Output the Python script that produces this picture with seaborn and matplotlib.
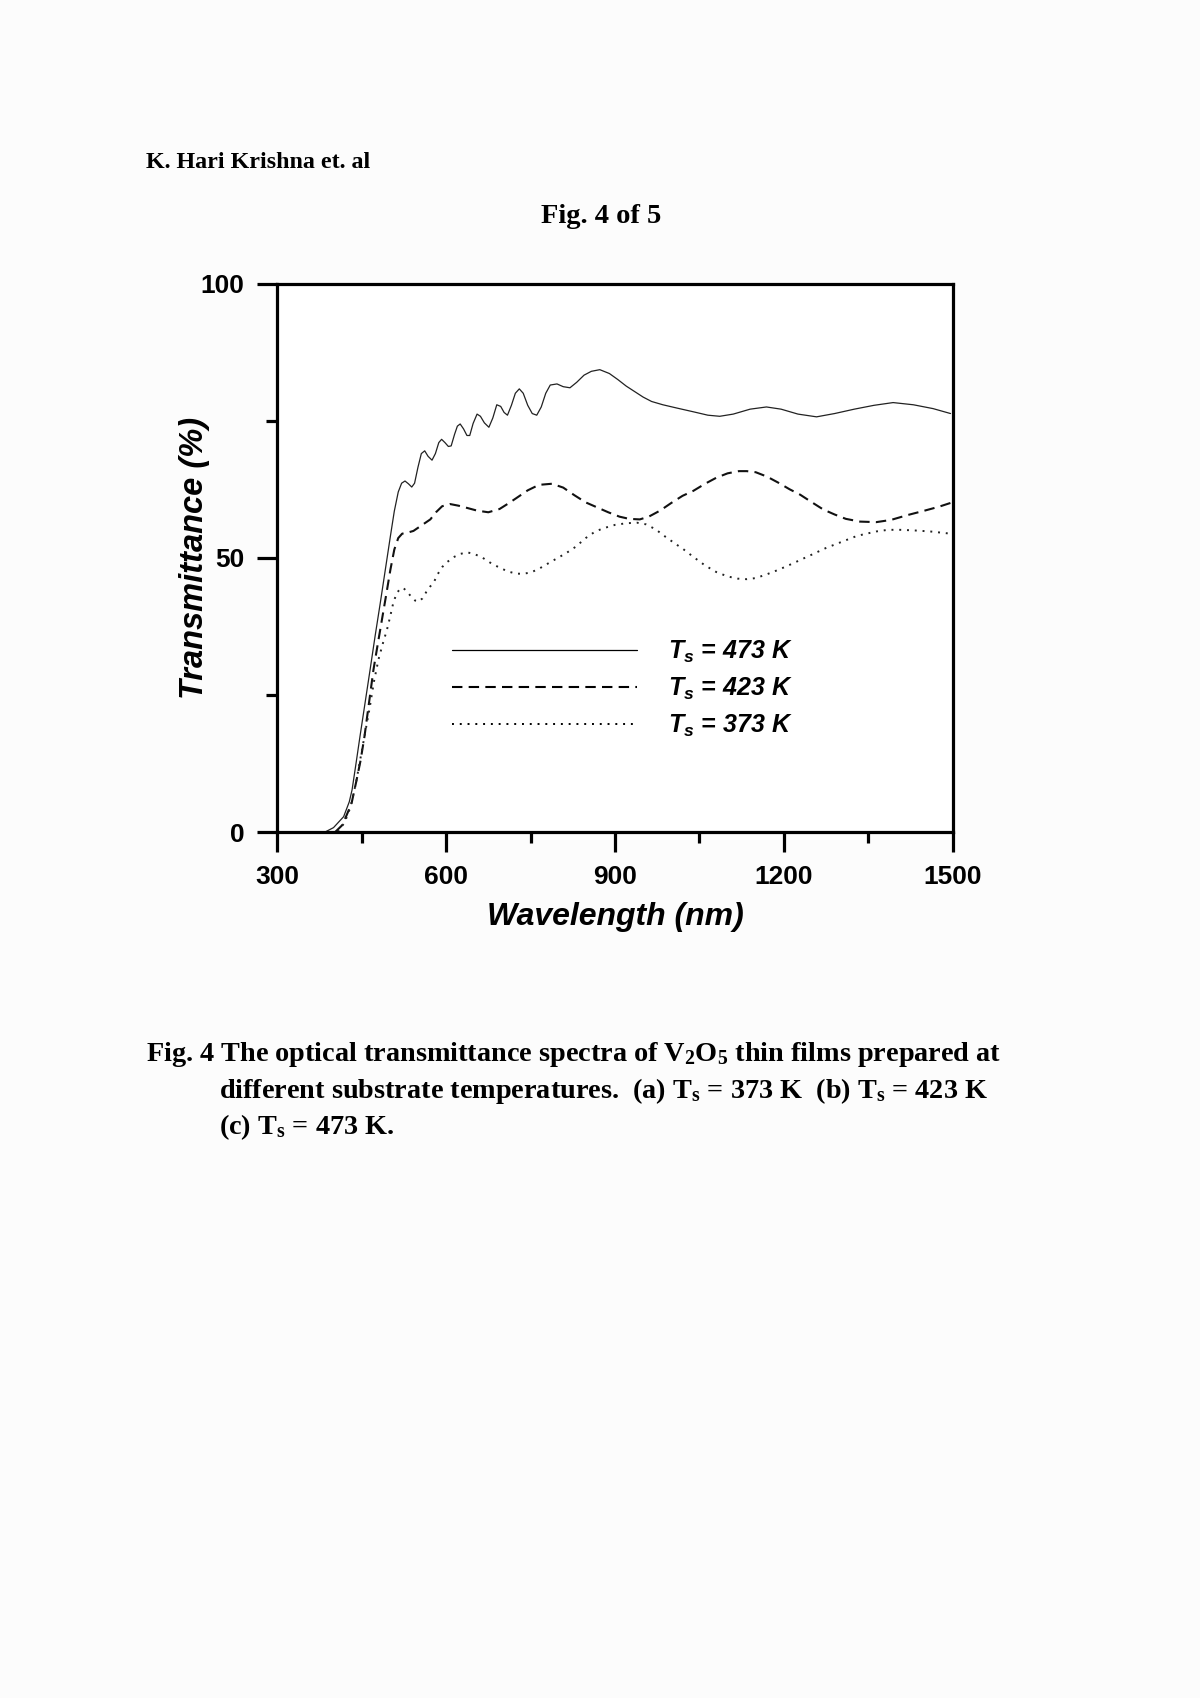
import numpy as np
import pandas as pd
import seaborn as sns
import matplotlib.pyplot as plt
from matplotlib.ticker import MultipleLocator

# Ts = 473 K (solid)
wl_473 = [385, 400, 418, 428, 433, 440, 447, 456, 465, 474, 483, 492, 501, 508, 515,
          521, 527, 533, 539, 544, 550, 556, 562, 568, 575, 581, 587, 592, 598, 604,
          609, 615, 620, 625, 631, 637, 642, 648, 655, 661, 668, 676, 683, 690, 697,
          703, 709, 716, 723, 730, 737, 745, 753, 761, 769, 777, 785, 797, 808, 820,
          832, 845, 858, 873, 890, 905, 920, 935, 950, 965, 985, 1010, 1040, 1065,
          1086, 1110, 1140, 1169, 1195, 1225, 1258, 1290, 1325, 1360, 1394, 1430,
          1465, 1496]
tr_473 = [0.0, 0.8, 2.8, 5.5, 7.7, 12.5, 17.4, 23.5, 29.6, 35.8, 41.7, 47.8, 53.9, 58.5, 62.0,
          63.6, 64.0, 63.5, 62.9, 63.6, 66.5, 69.0, 69.5, 68.5, 67.8, 69.0, 71.0, 71.6, 71.0, 70.3,
          70.4, 72.5, 74.0, 74.4, 73.5, 72.3, 72.3, 74.5, 76.2, 75.8, 74.6, 73.8, 75.5, 77.9, 77.6,
          76.5, 76.0, 77.8, 80.0, 80.8, 80.0, 77.8, 76.3, 76.0, 77.5, 80.0, 81.5, 81.7, 81.2, 81.0,
          82.0, 83.3, 84.0, 84.3, 83.6, 82.5, 81.3, 80.3, 79.3, 78.5, 77.9, 77.3, 76.6, 76.0,
          75.8, 76.2, 77.1, 77.5, 77.1, 76.2, 75.7, 76.3, 77.1, 77.8, 78.3, 77.9,
          77.2, 76.3]

# Ts = 423 K (dashed)
wl_423 = [403, 415, 423, 432, 440, 448, 455, 463, 471, 479, 486, 494, 501, 508, 515,
          522, 532, 542, 552, 562, 572, 582, 593, 607, 622, 637, 655, 675, 695, 712,
          725, 745, 765, 788, 808, 828, 848, 868, 888, 908, 925, 944, 960, 980, 1000,
          1020, 1039, 1060, 1080, 1100, 1120, 1134, 1150, 1170, 1190, 1210, 1229, 1250,
          1270, 1290, 1310, 1335, 1364, 1390, 1420, 1450, 1475, 1496]
tr_423 = [0.0, 1.2, 3.0, 5.2, 9.0, 13.0, 17.4, 23.5, 29.6, 34.5, 38.7, 43.5, 47.8, 51.5, 53.6,
          54.4, 54.6, 54.9, 55.6, 56.3, 57.0, 58.3, 59.4, 59.8, 59.5, 59.1, 58.6, 58.3, 58.9, 60.0,
          60.9, 62.3, 63.3, 63.5, 62.8, 61.4, 60.1, 59.2, 58.3, 57.5, 57.1, 57.0, 57.5, 58.6, 60.0,
          61.3, 62.2, 63.5, 64.6, 65.4, 65.8, 65.8, 65.6, 64.8, 63.7, 62.5, 61.5, 60.1,
          58.8, 57.9, 57.1, 56.6, 56.5, 56.9, 57.8, 58.6, 59.3, 60.0]

# Ts = 373 K (dotted)
wl_373 = [408, 420, 430, 440, 448, 456, 464, 472, 480, 488, 495, 500, 506, 512, 518,
          524, 531, 538, 545, 551, 558, 565, 572, 578, 585, 593, 600, 607, 615, 625,
          637, 650, 665, 680, 695, 710, 725, 737, 750, 765, 780, 797, 814, 830, 848,
          865, 880, 900, 920, 939, 955, 972, 990, 1008, 1021, 1040, 1060, 1080, 1100,
          1118, 1134, 1150, 1170, 1190, 1210, 1229, 1250, 1275, 1300, 1330, 1364, 1385,
          1406, 1430, 1460, 1496]
tr_373 = [0.0, 1.8, 4.5, 9.0, 13.5, 18.0, 22.5, 27.5, 31.5, 34.5, 36.9, 39.0, 41.7, 43.5, 44.3,
          44.5, 43.8, 42.9, 42.2, 42.0, 42.6, 43.8, 44.8, 45.5, 47.0, 48.3, 49.1, 49.6, 50.2, 50.7,
          51.0, 50.7, 50.0, 49.0, 48.2, 47.5, 47.1, 47.1, 47.3, 48.0, 48.9, 49.9, 50.9, 52.0, 53.6,
          54.8, 55.4, 56.0, 56.3, 56.4, 56.1, 55.2, 53.8, 52.5, 51.6, 50.1, 48.6, 47.4, 46.6,
          46.2, 46.1, 46.3, 47.0, 47.8, 48.7, 49.6, 50.6, 51.8, 52.8, 54.0, 54.8, 55.1,
          55.1, 55.0, 54.8, 54.4]

labels = ['$T_s$ = 473 K', '$T_s$ = 423 K', '$T_s$ = 373 K']
x_ticks = [300, 600, 900, 1200, 1500]
y_ticks = [0, 50, 100]

sns.set_theme(style='ticks')
plt.rcParams['font.family'] = ['Liberation Sans', 'DejaVu Sans']
plt.rcParams['mathtext.default'] = 'regular'
for key in ['text.color', 'axes.labelcolor', 'xtick.color', 'ytick.color',
            'xtick.labelcolor', 'ytick.labelcolor']:
    plt.rcParams[key] = 'black'

fig = plt.figure(figsize=(12, 16.98), dpi=100, facecolor='#fcfcfc')
ax = fig.add_axes([0.231, 0.510, 0.563, 0.323])
ax.set_facecolor('white')

sns.lineplot(x=wl_473, y=tr_473, ax=ax, color='#222222', lw=0.9,
             linestyle='-', label=labels[0])
sns.lineplot(x=wl_423, y=tr_423, ax=ax, color='#111111', lw=1.5,
             linestyle=(0, (5, 3)), label=labels[1])
sns.lineplot(x=wl_373, y=tr_373, ax=ax, color='#222222', lw=1.4,
             linestyle=(0, (1, 3)), label=labels[2])

ax.set_xlim(300, 1500)
ax.set_ylim(0, 100)
ax.set_xticks(x_ticks)
ax.set_yticks(y_ticks)
ax.xaxis.set_minor_locator(MultipleLocator(150))
ax.yaxis.set_minor_locator(MultipleLocator(25))

for side in ['left', 'right', 'top', 'bottom']:
    ax.spines[side].set_visible(True)
    ax.spines[side].set_linewidth(2.3)
    ax.spines[side].set_color('black')

ax.tick_params(which='major', direction='out', length=14.5, width=2.3,
               labelsize=19, pad=9, color='black', labelcolor='black')
ax.tick_params(which='minor', direction='out', length=8, width=2.3, color='black')
ax.tick_params(top=False, right=False, which='both')
for lab in ax.get_xticklabels() + ax.get_yticklabels():
    lab.set_fontweight('bold')

ax.set_xlabel('Wavelength (nm)', fontsize=23, fontweight='bold', fontstyle='italic')
ax.set_ylabel('Transmittance (%)', fontsize=23.5, fontweight='bold', fontstyle='italic')
ax.xaxis.set_label_coords(0.5, -0.128)
ax.yaxis.set_label_coords(-0.10, 0.5)

leg = ax.legend(loc='upper left', bbox_to_anchor=(0.258, 0.352), frameon=False,
                handlelength=7.4, handletextpad=1.25, labelspacing=0.42,
                borderpad=0, borderaxespad=0,
                prop={'size': 18, 'weight': 'bold', 'style': 'italic'})
for line in leg.get_lines():
    line.set_color('black')

serif = ['Liberation Serif', 'DejaVu Serif']
fig.text(146 / 1200, 1 - 168 / 1698, 'K. Hari Krishna et. al', family=serif,
         fontsize=17.3, fontweight='bold', ha='left', va='baseline')
fig.text(601 / 1200, 1 - 223 / 1698, 'Fig. 4 of 5', family=serif,
         fontsize=20.5, fontweight='bold', ha='center', va='baseline')

cap_lines = [
    (146, 1061, 'Fig. 4 The optical transmittance spectra of V$_2$O$_5$ thin films prepared at'),
    (219, 1098, 'different substrate temperatures.  (a) T$_s$ = 373 K  (b) T$_s$ = 423 K'),
    (219, 1134, '(c) T$_s$ = 473 K.'),
]
for x, y, txt in cap_lines:
    fig.text(x / 1200, 1 - y / 1698, txt, family=serif, fontsize=20.3,
             fontweight='bold', ha='left', va='baseline')

fig.savefig('out.png', dpi=100, facecolor=fig.get_facecolor())
